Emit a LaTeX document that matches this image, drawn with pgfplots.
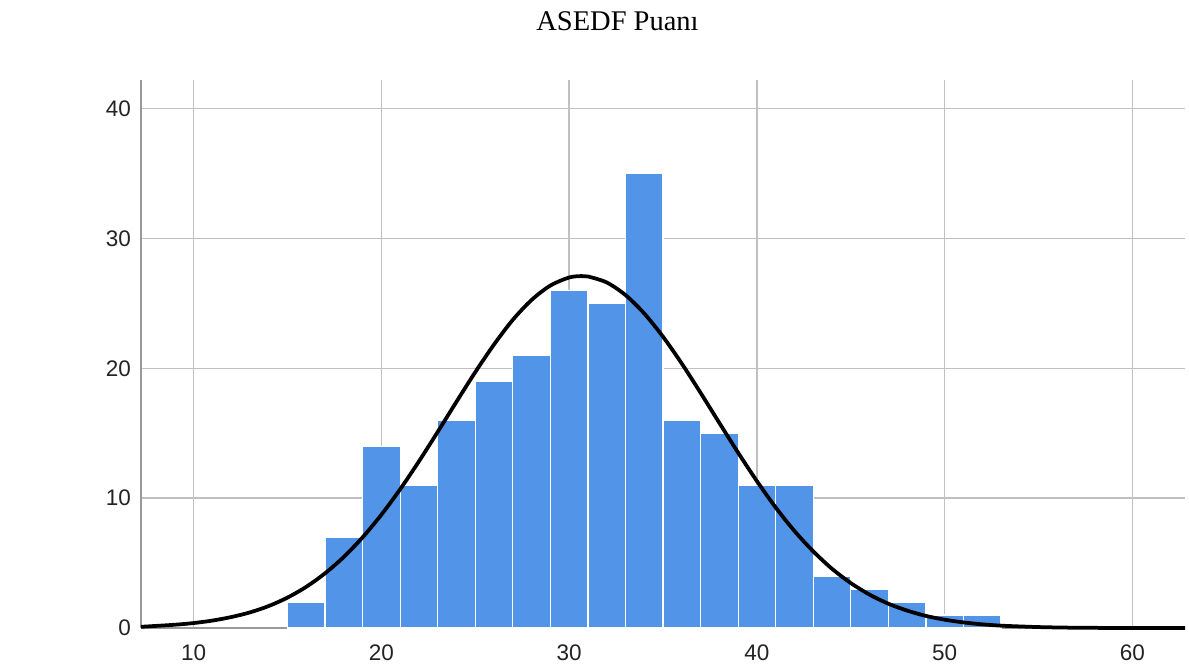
\documentclass[border=0pt]{standalone}
\usepackage{pgfplots}
\pgfplotsset{compat=1.18}
\usepackage{fontspec}
\setmainfont{Liberation Serif}
\newfontfamily\ticksans{Liberation Sans}
\definecolor{barblue}{RGB}{82,148,232}
\definecolor{gridgray}{RGB}{192,192,192}
\definecolor{ticktext}{RGB}{35,35,35}

% histogram counts, bins of width 2 (left edges)
\pgfplotstableread{
x  n
15 2
17 7
19 14
21 11
23 16
25 19
27 21
29 26
31 25
33 35
35 16
37 15
39 11
41 11
43 4
45 3
47 2
49 1
51 1
53 1
}\histdata

\begin{document}
\begin{tikzpicture}
\useasboundingbox (0,0) rectangle (475.6pt,266.4pt);
\node[font=\fontsize{11.4}{13}\selectfont, anchor=center] at (247pt,258pt) {ASEDF Puanı};
\begin{axis}[
    at={(56.4pt,15.2pt)}, anchor=south west,
    scale only axis, width=417.6pt, height=219.2pt,
    xmin=7.2, xmax=62.8, ymin=0, ymax=42.2,
    axis x line=bottom, axis y line=left,
    axis line style={-, draw=gray!80, line width=0.6pt},
    xtick={10,20,...,60}, ytick={0,10,...,40},
    major tick length=0pt,
    grid=major,
    major grid style={draw=gridgray, line width=0.55pt},
    tick label style={font=\ticksans\fontsize{9}{10}\selectfont, text=ticktext},
    /pgf/number format/assume math mode=true,
    xticklabel style={yshift=-3pt},
    yticklabel style={xshift=-0.5pt},
    clip=false,
]
\addplot[ybar interval, fill=barblue, draw=white, line width=0.5pt] table[x=x, y=n] {\histdata};
\addplot[black, line width=1.5pt, smooth] coordinates {
(7.2,0.09) (8,0.16) (9,0.25) (10,0.38) (11,0.57) (12,0.84) (13,1.20) (14,1.69)
(15,2.34) (16,3.17) (17,4.21) (18,5.47) (19,6.98) (20,8.72) (21,10.68)
(22,12.83) (23,15.10) (24,17.42) (25,19.70) (26,21.83) (27,23.73) (28,25.26)
(29,26.37) (30,26.99) (30.65,27.10) (31,27.07) (32,26.61) (33,25.64) (34,24.22)
(35,22.43) (36,20.36) (37,18.11) (38,15.79) (39,13.50) (40,11.31) (41,9.28)
(42,7.47) (43,5.90) (44,4.56) (45,3.46) (46,2.57) (47,1.87) (48,1.34)
(49,0.93) (50,0.64) (51,0.43) (52,0.28) (53,0.18) (54,0.12) (55,0.07)
(56,0.04) (57,0.02) (58,0.01) (60,0.0) (62.8,0.0)
};
\end{axis}
\end{tikzpicture}
\end{document}
